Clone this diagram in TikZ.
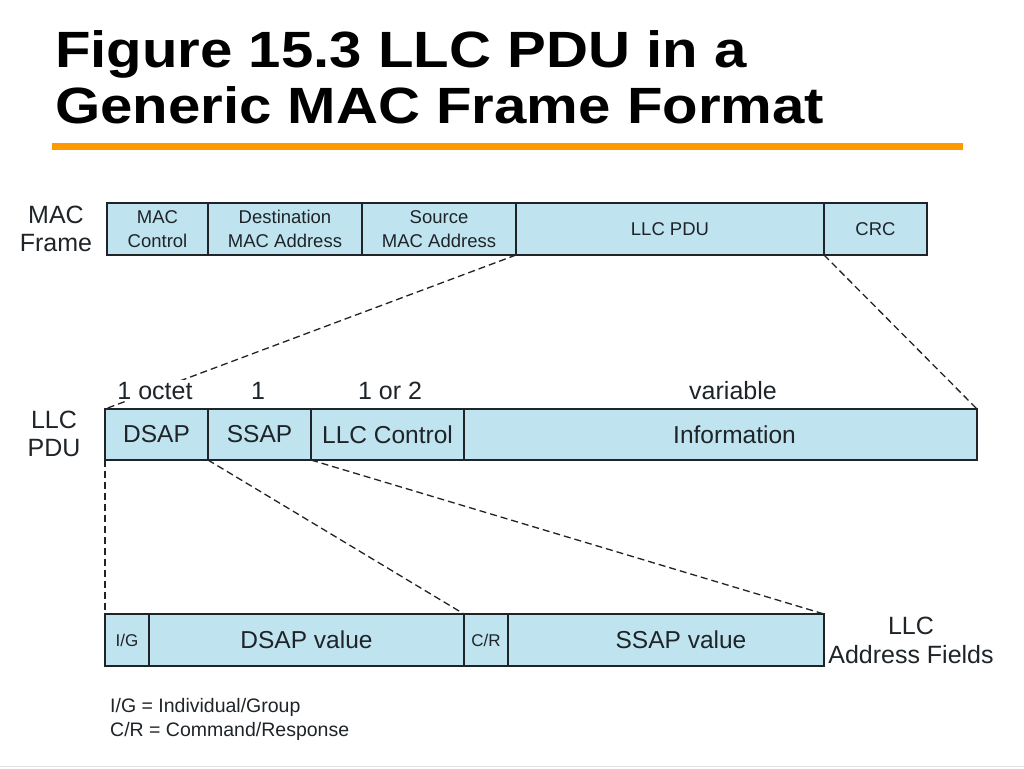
\documentclass[tikz,border=0pt]{standalone}
\usepackage{fontspec}
\setmainfont{Liberation Sans}
\definecolor{fieldblue}{RGB}{191,228,240}
\definecolor{titleorange}{RGB}{255,153,0}
\definecolor{inkdark}{RGB}{30,36,40}
\begin{document}
\begin{tikzpicture}[x=1pt,y=-1pt,
  field/.style={draw=inkdark, line width=2.2pt, fill=fieldblue, anchor=north west,
    inner sep=0pt, outer sep=0pt, text=inkdark, align=center},
  smallf/.style={font=\fontsize{18.5}{24}\selectfont},
  bigf/.style={font=\fontsize{24.5}{28}\selectfont},
  tinyf/.style={font=\fontsize{17}{20}\selectfont},
  lbl/.style={inner sep=0pt, text=inkdark, align=center, font=\fontsize{25}{28}\selectfont},
  conn/.style={draw=inkdark, line width=1.3pt, dash pattern=on 7pt off 4pt},
  titlef/.style={inner sep=0pt, anchor=base west, font=\fontsize{51}{51}\selectfont\bfseries}
]
\useasboundingbox (0,0) rectangle (1024,768);
\fill[white] (0,0) rectangle (1024,768);

% title
\node[titlef] (t1) at (55,67) {\scalebox{1.14}[1]{Figure 15.3 LLC PDU in a}};
\node[titlef] (t2) at (55,123) {\scalebox{1.14}[1]{Generic MAC Frame Format}};
\draw[titleorange, line width=7pt] (52,146) -- (963,146);

% MAC frame row
\node[lbl] (macl) at (56,229) {MAC\\Frame};
\node[field, smallf, minimum width=101pt, minimum height=52pt] (mcc) at (107,203) {MAC\\Control};
\node[field, smallf, minimum width=154pt, minimum height=52pt] (dst) at (208,203) {Destination\\MAC Address};
\node[field, smallf, minimum width=154pt, minimum height=52pt] (src) at (362,203) {Source\\MAC Address};
\node[field, smallf, minimum width=308pt, minimum height=52pt] (pdu) at (516,203) {LLC PDU};
\node[field, smallf, minimum width=103pt, minimum height=52pt] (crc) at (824,203) {CRC};

% LLC PDU row
\node[lbl] (pdul) at (54,434) {LLC\\PDU};
\node[field, bigf, minimum width=103pt, minimum height=51pt] (dsap) at (105,409) {DSAP};
\node[field, bigf, minimum width=103pt, minimum height=51pt] (ssap) at (208,409) {SSAP};
\node[field, bigf, minimum width=153pt, minimum height=51pt] (llcc) at (311,409) {LLC Control};
\node[field, bigf, minimum width=513pt, minimum height=51pt] (info) at (464,409) {\hspace*{28pt}Information};

% address fields row
\node[field, tinyf, minimum width=44pt, minimum height=52pt] (ig) at (105,614) {I/G};
\node[field, bigf, minimum width=315pt, minimum height=52pt] (dv) at (149,614) {DSAP value};
\node[field, tinyf, minimum width=44pt, minimum height=52pt] (cr) at (464,614) {C/R};
\node[field, bigf, minimum width=316pt, minimum height=52pt] (sv) at (508,614) {\hspace*{30pt}SSAP value};
\node[lbl, font=\fontsize{25}{29}\selectfont] (addl) at (911,640) {LLC\\Address Fields};

% dashed connectors
\draw[conn] (src.south east) -- (dsap.north west);
\draw[conn] (crc.south west) -- (info.north east);
\draw[conn] (dsap.south west) -- (ig.north west);
\draw[conn] (dsap.south east) -- (cr.north west);
\draw[conn] (ssap.south east) -- (sv.north east);

% size labels (drawn over the connector)
\node[lbl, anchor=base, fill=white, inner sep=1.5pt] (o1) at (155,399) {1 octet};
\node[lbl, anchor=base] (o2) at (258,399) {1};
\node[lbl, anchor=base] (o3) at (390,399) {1 or 2};
\node[lbl, anchor=base] (o4) at (733,399) {variable};

% legend
\node[inner sep=0pt, anchor=base west, text=inkdark, font=\fontsize{19.5}{24}\selectfont] (lg1) at (110,712) {I/G = Individual/Group};
\node[inner sep=0pt, anchor=base west, text=inkdark, font=\fontsize{19.5}{24}\selectfont] (lg2) at (110,736) {C/R = Command/Response};

% bottom rule
\draw[black!12, line width=1pt] (0,766.5) -- (1024,766.5);
\end{tikzpicture}
\end{document}
